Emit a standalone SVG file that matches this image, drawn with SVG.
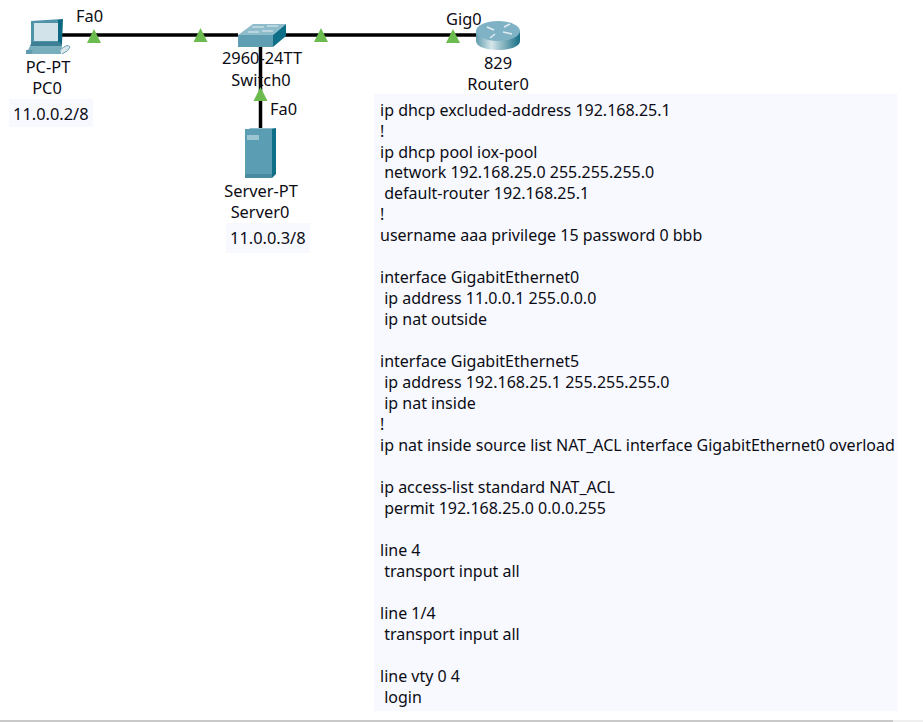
<svg xmlns="http://www.w3.org/2000/svg" width="923" height="722" viewBox="0 0 923 722">
<defs>
<style>
text{font-family:"Noto Sans","Open Sans","Liberation Sans",sans-serif;font-size:16px;fill:#0c0c14}
.c{text-anchor:middle}
.lbl{font-size:16.400px}
.link{stroke:#000;stroke-width:3.500;fill:none}
.tri{fill:#6cbb4f}
.bg{fill:#f7f9ff}
</style>
<linearGradient id="rg" x1="0" x2="1" y1="0" y2="0"><stop offset="0" stop-color="#5f9cae"/><stop offset="0.35" stop-color="#d5e6ea"/><stop offset="1" stop-color="#176f86"/></linearGradient>
<polygon id="t" points="0,-7 7,7 -7,7"/>
</defs>
<rect width="923" height="722" fill="#fff"/>
<rect x="0" y="720" width="893" height="2" fill="#c9c9c9"/>
<rect x="893" y="720" width="30" height="2" fill="#efefef"/>
<g id="connectors">
<path class="link" d="M62 35H238M284 35H478"/>
<path class="link" d="M260.500 46V128"/>
<use href="#t" class="tri" x="94" y="36"/>
<use href="#t" class="tri" x="200.500" y="35"/>
<use href="#t" class="tri" x="321" y="35"/>
<use href="#t" class="tri" x="453" y="36"/>
<use href="#t" class="tri" x="260.500" y="94"/>
</g>
<g id="pc0">
<polygon points="31,21 62,19 62,45 31,47" fill="#4f93a8"/>
<rect x="34" y="23" width="24" height="18" fill="#d3e3ea"/>
<polygon points="58,20 63,19 62,44 58,46" fill="#0e6a82"/>
<polygon points="32,42 60,42 62,46 30,46" fill="#3d7f94"/>
<polygon points="30,46 62,46 61,54 26,54" fill="#79aebd"/>
<polygon points="26,50 33,50 31,54 26,54" fill="#5c9cae"/>
<path d="M60 50q8-7 10-3-1 4-8 7" fill="#dbe7ea" stroke="#6aa2b2" stroke-width="1"/>
<text class="c lbl" x="48" y="73">PC-PT</text>
<text class="c lbl" x="47" y="94">PC0</text>
<rect class="bg" x="9" y="99" width="84" height="28"/>
<text class="lbl" x="13" y="120">11.0.0.2/8</text>
</g>
<g id="switch0">
<polygon points="238,35 253,24 286,24 273,35" fill="#8fbccb"/>
<g stroke="#e4eef2" stroke-width="1"><path d="M252 27h12M267 26h11M248 32h11M262 31h11"/></g>
<rect x="238" y="35" width="35" height="12" fill="#5f9eb3"/>
<polygon points="273,35 286,24 286,36 273,47" fill="#0f6f87"/>
<text class="c lbl" x="262" y="64">2960-24TT</text>
<text class="c lbl" x="261" y="86">Switch0</text>
<text class="lbl" x="270" y="115">Fa0</text>
</g>
<g id="server0">
<polygon points="245,133 250,128 276,128 276,130 274,133" fill="#8fbccb"/>
<rect x="245" y="129" width="27" height="49" fill="#5b9db3"/>
<rect x="247" y="135" width="12" height="5" fill="#9cc5d2"/>
<polygon points="272,129 276,128 276,174 272,178" fill="#0f6f87"/>
<rect x="245" y="174" width="27" height="4" fill="#4b8ba0"/>
<text class="c lbl" x="261" y="197">Server-PT</text>
<text class="c lbl" x="260" y="218">Server0</text>
<rect class="bg" x="226" y="223" width="84" height="30"/>
<text class="lbl" x="230" y="244">11.0.0.3/8</text>
</g>
<g id="router0">
<path d="M476 31v10c0 12 44 12 44 0V31z" fill="url(#rg)"/>
<ellipse cx="498" cy="31" rx="22" ry="10" fill="#7fb2c4"/>
<path d="M487 27l7 3M510 24l-6 3M490 38l5-4M503 32l9 2" stroke="#e4eef2" stroke-width="1.500" fill="none"/>
<text class="c lbl" x="498" y="69">829</text>
<text class="c lbl" x="498" y="90">Router0</text>
</g>
<g id="labels">
<text class="lbl" x="76" y="22">Fa0</text>
<text class="lbl" x="446" y="25">Gig0</text>
</g>
<g id="config">
<rect class="bg" x="374" y="94" width="523.500" height="617"/>
<text x="380" y="116">ip dhcp excluded-address 192.168.25.1</text>
<text x="380" y="137">!</text>
<text x="380" y="158">ip dhcp pool iox-pool</text>
<text x="380" y="178" xml:space="preserve"> network 192.168.25.0 255.255.255.0</text>
<text x="380" y="199" xml:space="preserve"> default-router 192.168.25.1</text>
<text x="380" y="220">!</text>
<text x="380" y="241">username aaa privilege 15 password 0 bbb</text>
<text x="380" y="283">interface GigabitEthernet0</text>
<text x="380" y="304" xml:space="preserve"> ip address 11.0.0.1 255.0.0.0</text>
<text x="380" y="325" xml:space="preserve"> ip nat outside</text>
<text x="380" y="367">interface GigabitEthernet5</text>
<text x="380" y="388" xml:space="preserve"> ip address 192.168.25.1 255.255.255.0</text>
<text x="380" y="409" xml:space="preserve"> ip nat inside</text>
<text x="380" y="430">!</text>
<text x="380" y="451">ip nat inside source list NAT_ACL interface GigabitEthernet0 overload</text>
<text x="380" y="493">ip access-list standard NAT_ACL</text>
<text x="380" y="514" xml:space="preserve"> permit 192.168.25.0 0.0.0.255</text>
<text x="380" y="556">line 4</text>
<text x="380" y="577" xml:space="preserve"> transport input all</text>
<text x="380" y="619">line 1/4</text>
<text x="380" y="640" xml:space="preserve"> transport input all</text>
<text x="380" y="682">line vty 0 4</text>
<text x="380" y="703" xml:space="preserve"> login</text>
</g>
</svg>
